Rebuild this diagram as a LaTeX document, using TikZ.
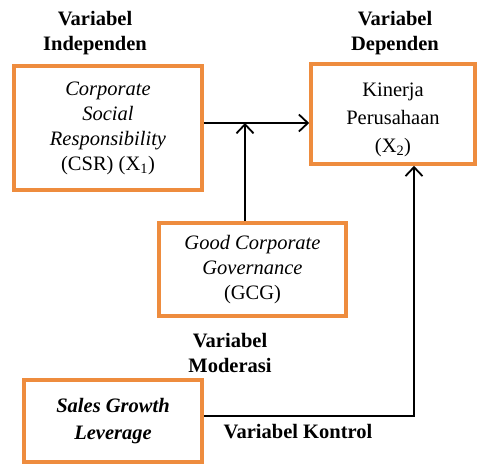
\documentclass[tikz,border=0pt]{standalone}
\usepackage{fontspec}
\setmainfont{Liberation Serif}
\usetikzlibrary{arrows.meta}
\definecolor{boxorange}{RGB}{238,140,62}
\newcommand{\diafont}{\fontsize{20.5}{25}\selectfont}
\tikzset{
  varbox/.style={draw=boxorange,line width=3.6pt,align=center,inner sep=0pt},
  varlab/.style={font=\diafont\bfseries,align=center},
  link/.style={line width=1.8pt,-{Straight Barb[length=9pt,width=17pt,line width=1.8pt]}}
}
\begin{document}
\begin{tikzpicture}[x=1pt,y=-1pt,font=\diafont]
  \useasboundingbox (0,0) rectangle (477,468);
  % boxes
  \node[varbox,minimum width=188,minimum height=124] (csr) at (108,128)
    {\textit{Corporate}\\ \textit{Social}\\ \textit{Responsibility}\\ (CSR) (X\textsubscript{1})};
  \node[varbox,minimum width=164,minimum height=100] (kin) at (393,114)
    {\rule{0pt}{26pt}Kinerja\\[3pt] Perusahaan\\[3pt] (X\textsubscript{2})};
  \node[varbox,minimum width=187,minimum height=93] (gcg) at (252.5,269.5)
    {\textit{Good Corporate}\\ \textit{Governance}\\ (GCG)};
  \node[varbox,minimum width=178,minimum height=82] (sales) at (113,421)
    {\textbf{\textit{Sales Growth}}\\[2pt] \textbf{\textit{Leverage}}};
  % labels
  \node[varlab] (lind) at (95,33) {Variabel\\ Independen};
  \node[varlab] (ldep) at (395,33) {Variabel\\ Dependen};
  \node[varlab] (lmod) at (230,353) {Variabel\\ Moderasi};
  \node[varlab] (lkon) at (298,432) {Variabel Kontrol};
  % connectors
  \coordinate (j) at (245,123);
  \coordinate (k) at (414,416);
  \draw[link] (csr.east |- j) -- (kin.west |- j);
  \draw[link] (gcg.north -| j) -- (j);
  \draw[link] (sales.east |- k) -- (k) -- (kin.south -| k);
\end{tikzpicture}
\end{document}
